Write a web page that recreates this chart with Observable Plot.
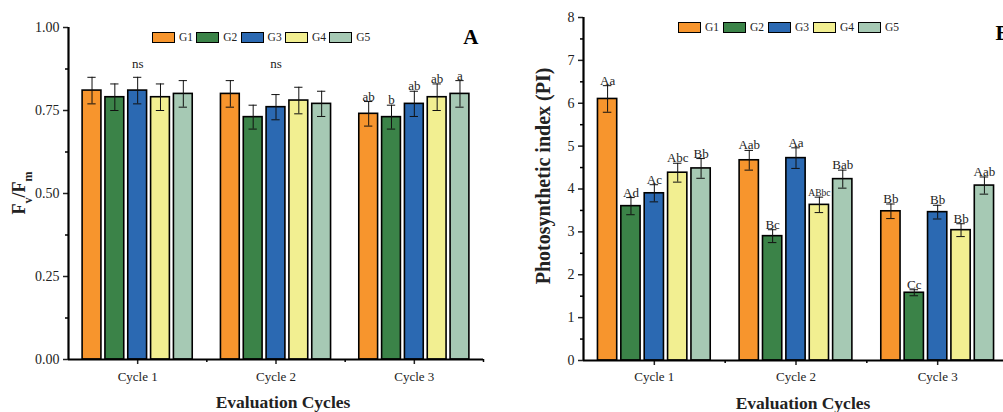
<!DOCTYPE html>
<html><head><meta charset="utf-8">
<script src="https://cdn.jsdelivr.net/npm/d3@7"></script>
<script src="https://cdn.jsdelivr.net/npm/@observablehq/plot@0.6"></script>
<style>
html,body{margin:0;padding:0;background:#fff;overflow:hidden;}
#wrap{position:relative;width:1003px;height:412px;overflow:hidden;font-family:"Liberation Serif",serif;}
.panel{position:absolute;top:0;}
.legend{position:absolute;display:flex;font-size:11.5px;color:#222;font-family:"Liberation Serif",serif;}
.item{display:flex;align-items:center;}
.sw{width:21px;height:9px;border:1.5px solid #000;margin-right:4px;}
</style></head><body><div id="wrap"></div>
<script>
// ---- data ----
const cycles = ["Cycle 1", "Cycle 2", "Cycle 3"];
const groups = ["G1", "G2", "G3", "G4", "G5"];
const colors = ["#F7952D", "#3B8348", "#2B69B2", "#F2EF91", "#A6C9B4"];

// Panel A: Fv/Fm
const fvfmMean = [
  [0.81, 0.79, 0.81, 0.79, 0.80],
  [0.80, 0.73, 0.76, 0.78, 0.77],
  [0.74, 0.73, 0.77, 0.79, 0.80]
];
const fvfmErr = [
  [0.04, 0.04, 0.04, 0.04, 0.04],
  [0.04, 0.036, 0.038, 0.04, 0.038],
  [0.037, 0.036, 0.038, 0.04, 0.04]
];
const fvfmLetters = [
  ["", "", "", "", ""],
  ["", "", "", "", ""],
  ["ab", "b", "ab", "ab", "a"]
];
const fvfmCycleNote = ["ns", "ns", ""];
const fvfmTicks = [0, 0.25, 0.5, 0.75, 1];

// Panel B: Photosynthetic index
const piMean = [
  [6.10, 3.60, 3.90, 4.38, 4.48],
  [4.67, 2.90, 4.72, 3.63, 4.23],
  [3.48, 1.58, 3.46, 3.04, 4.08]
];
const piErr = [
  [0.31, 0.20, 0.20, 0.22, 0.23],
  [0.23, 0.15, 0.24, 0.18, 0.21],
  [0.17, 0.07, 0.16, 0.15, 0.20]
];
const piLetters = [
  ["Aa", "Ad", "Ac", "Abc", "Bb"],
  ["Aab", "Bc", "Aa", "ABbc", "Bab"],
  ["Bb", "Cc", "Bb", "Bb", "Aab"]
];
const piTicks = [0, 1, 2, 3, 4, 5, 6, 7, 8];

// ---- helpers ----
function rows(mean, err, letters) {
  const out = [];
  mean.forEach((row, c) => row.forEach((v, g) => out.push({
    c, g, group: groups[g], v, e: err[c][g], label: letters[c][g]
  })));
  return out;
}
const pitch = 0.165, halfW = 0.068, cap = 0.03;
const cx = d => d.c + 0.5 + (d.g - 2) * pitch;
const ink = "#222";

function panel(opts) {
  const data = rows(opts.mean, opts.err, opts.letters);
  const yMax = opts.ticks[opts.ticks.length - 1];
  const step = opts.ticks[1] - opts.ticks[0];
  const minor = d3.range(0, opts.ticks.length - 1).map(i => opts.ticks[i] + step / 2);
  const marks = [
    Plot.rectY(data, {x1: d => cx(d) - halfW, x2: d => cx(d) + halfW, y: "v", fill: "group", stroke: "#000", strokeWidth: 1.6}),
    Plot.ruleX(data, {x: cx, y1: d => d.v - d.e, y2: d => d.v + d.e, stroke: "#111", strokeWidth: 1}),
    Plot.ruleY(data, {y: d => d.v + d.e, x1: d => cx(d) - cap, x2: d => cx(d) + cap, stroke: "#111", strokeWidth: 1}),
    Plot.ruleY(data, {y: d => d.v - d.e, x1: d => cx(d) - cap, x2: d => cx(d) + cap, stroke: "#111", strokeWidth: 1}),
    Plot.text(data.filter(d => d.label), {x: cx, y: d => d.v + d.e, text: "label", lineAnchor: "bottom", dy: -1,
      fontSize: d => d.label.length > 3 ? 9.5 : 13, fill: ink}),
    Plot.axisY({ticks: opts.ticks, tickFormat: opts.tickFormat, tickSize: 5, tickPadding: 4, strokeWidth: 1.5, fontSize: 14, label: null, color: ink}),
    Plot.axisY({ticks: minor, tickFormat: () => "", tickSize: 3, strokeWidth: 1.5, label: null}),
    Plot.axisX({ticks: [0.5, 1.5, 2.5], tickFormat: t => cycles[Math.floor(t)], tickSize: 5, tickPadding: opts.xPad, strokeWidth: 1.5, fontSize: 13, label: null, color: ink}),
    Plot.axisX({ticks: [1, 2, 3], tickFormat: () => "", tickSize: 3, strokeWidth: 1.5, label: null}),
    Plot.ruleX([0], {stroke: "#000", strokeWidth: 2.2}),
    Plot.ruleY([0], {stroke: "#000", strokeWidth: 2.2}),
    Plot.text(["Evaluation Cycles"], {frameAnchor: "bottom", dy: opts.xLabelDy, dx: 7, lineAnchor: "middle", fontWeight: "bold", fontSize: 17.5, fill: ink}),
    Plot.text([opts.tag], {frameAnchor: "top-right", dx: opts.tagDx, dy: opts.tagDy, lineAnchor: "middle", textAnchor: "end", fontWeight: "bold", fontSize: 21, fill: "#000"})
  ];
  if (opts.notes) {
    const top = d3.max(data.filter(d => opts.notes[d.c]), d => d.v + d.e);
    marks.push(Plot.text(opts.notes.map((n, c) => ({c, g: 2, n})).filter(d => d.n),
      {x: cx, y: () => top, text: "n", lineAnchor: "bottom", dy: -9, fontSize: 13, fill: ink}));
  }
  if (opts.yLabel) {
    marks.push(Plot.text([opts.yLabel], {frameAnchor: "left", dx: opts.yLabelDx, dy: opts.yLabelDy, rotate: -90, textAnchor: "middle", lineAnchor: "middle", fontWeight: "bold", fontSize: 20, fill: ink}));
  }
  const svg = Plot.plot({
    width: opts.width, height: 412,
    marginLeft: opts.ml, marginRight: opts.mr, marginTop: opts.mt, marginBottom: opts.mb,
    style: {fontFamily: "Liberation Serif, serif", background: "transparent", overflow: "visible"},
    x: {domain: [0, 3], axis: null},
    y: {domain: [0, yMax], axis: null},
    color: {domain: groups, range: colors},
    marks
  });
  svg.classList.add("panel");
  svg.style.left = opts.left + "px";
  return svg;
}

function legend(left, top, gapW) {
  const div = document.createElement("div");
  div.className = "legend";
  div.style.left = left + "px";
  div.style.top = top + "px";
  groups.forEach((g, i) => {
    const it = document.createElement("div");
    it.className = "item";
    it.style.width = gapW + "px";
    const sw = document.createElement("div");
    sw.className = "sw";
    sw.style.background = colors[i];
    const tx = document.createElement("span");
    tx.textContent = g;
    it.appendChild(sw); it.appendChild(tx);
    div.appendChild(it);
  });
  return div;
}

const wrap = document.getElementById("wrap");

const svgA = panel({
  mean: fvfmMean, err: fvfmErr, letters: fvfmLetters, notes: fvfmCycleNote,
  ticks: fvfmTicks, tickFormat: d3.format(".2f"),
  width: 500, left: 0, ml: 68, mr: 17, mt: 27, mb: 53, xPad: 7, xLabelDy: 43,
  tag: "A", tagDx: -5, tagDy: 10
});
wrap.appendChild(svgA);
// Fv/Fm label with subscripts
{
  const t = d3.select(svgA).append("text")
    .attr("transform", "translate(25,193) rotate(-90)")
    .attr("text-anchor", "middle").attr("font-weight", "bold")
    .attr("font-size", 18).attr("fill", ink).attr("font-family", "Liberation Serif, serif");
  t.append("tspan").text("F");
  t.append("tspan").attr("baseline-shift", "sub").attr("font-size", 12).text("v");
  t.append("tspan").attr("baseline-shift", "baseline").text("/F");
  t.append("tspan").attr("baseline-shift", "sub").attr("font-size", 12).text("m");
}

const svgB = panel({
  mean: piMean, err: piErr, letters: piLetters,
  ticks: piTicks, tickFormat: d3.format("d"),
  width: 512, left: 500, ml: 83, mr: 4, mt: 17, mb: 52, xPad: 6, xLabelDy: 43,
  tag: "B", tagDx: 1, tagDy: 16,
  yLabel: "Photosynthetic index (PI)", yLabelDx: -40, yLabelDy: -13
});
wrap.appendChild(svgB);

wrap.appendChild(legend(152, 31, 44.3));
wrap.appendChild(legend(678, 21, 45));
</script>
</body></html>
